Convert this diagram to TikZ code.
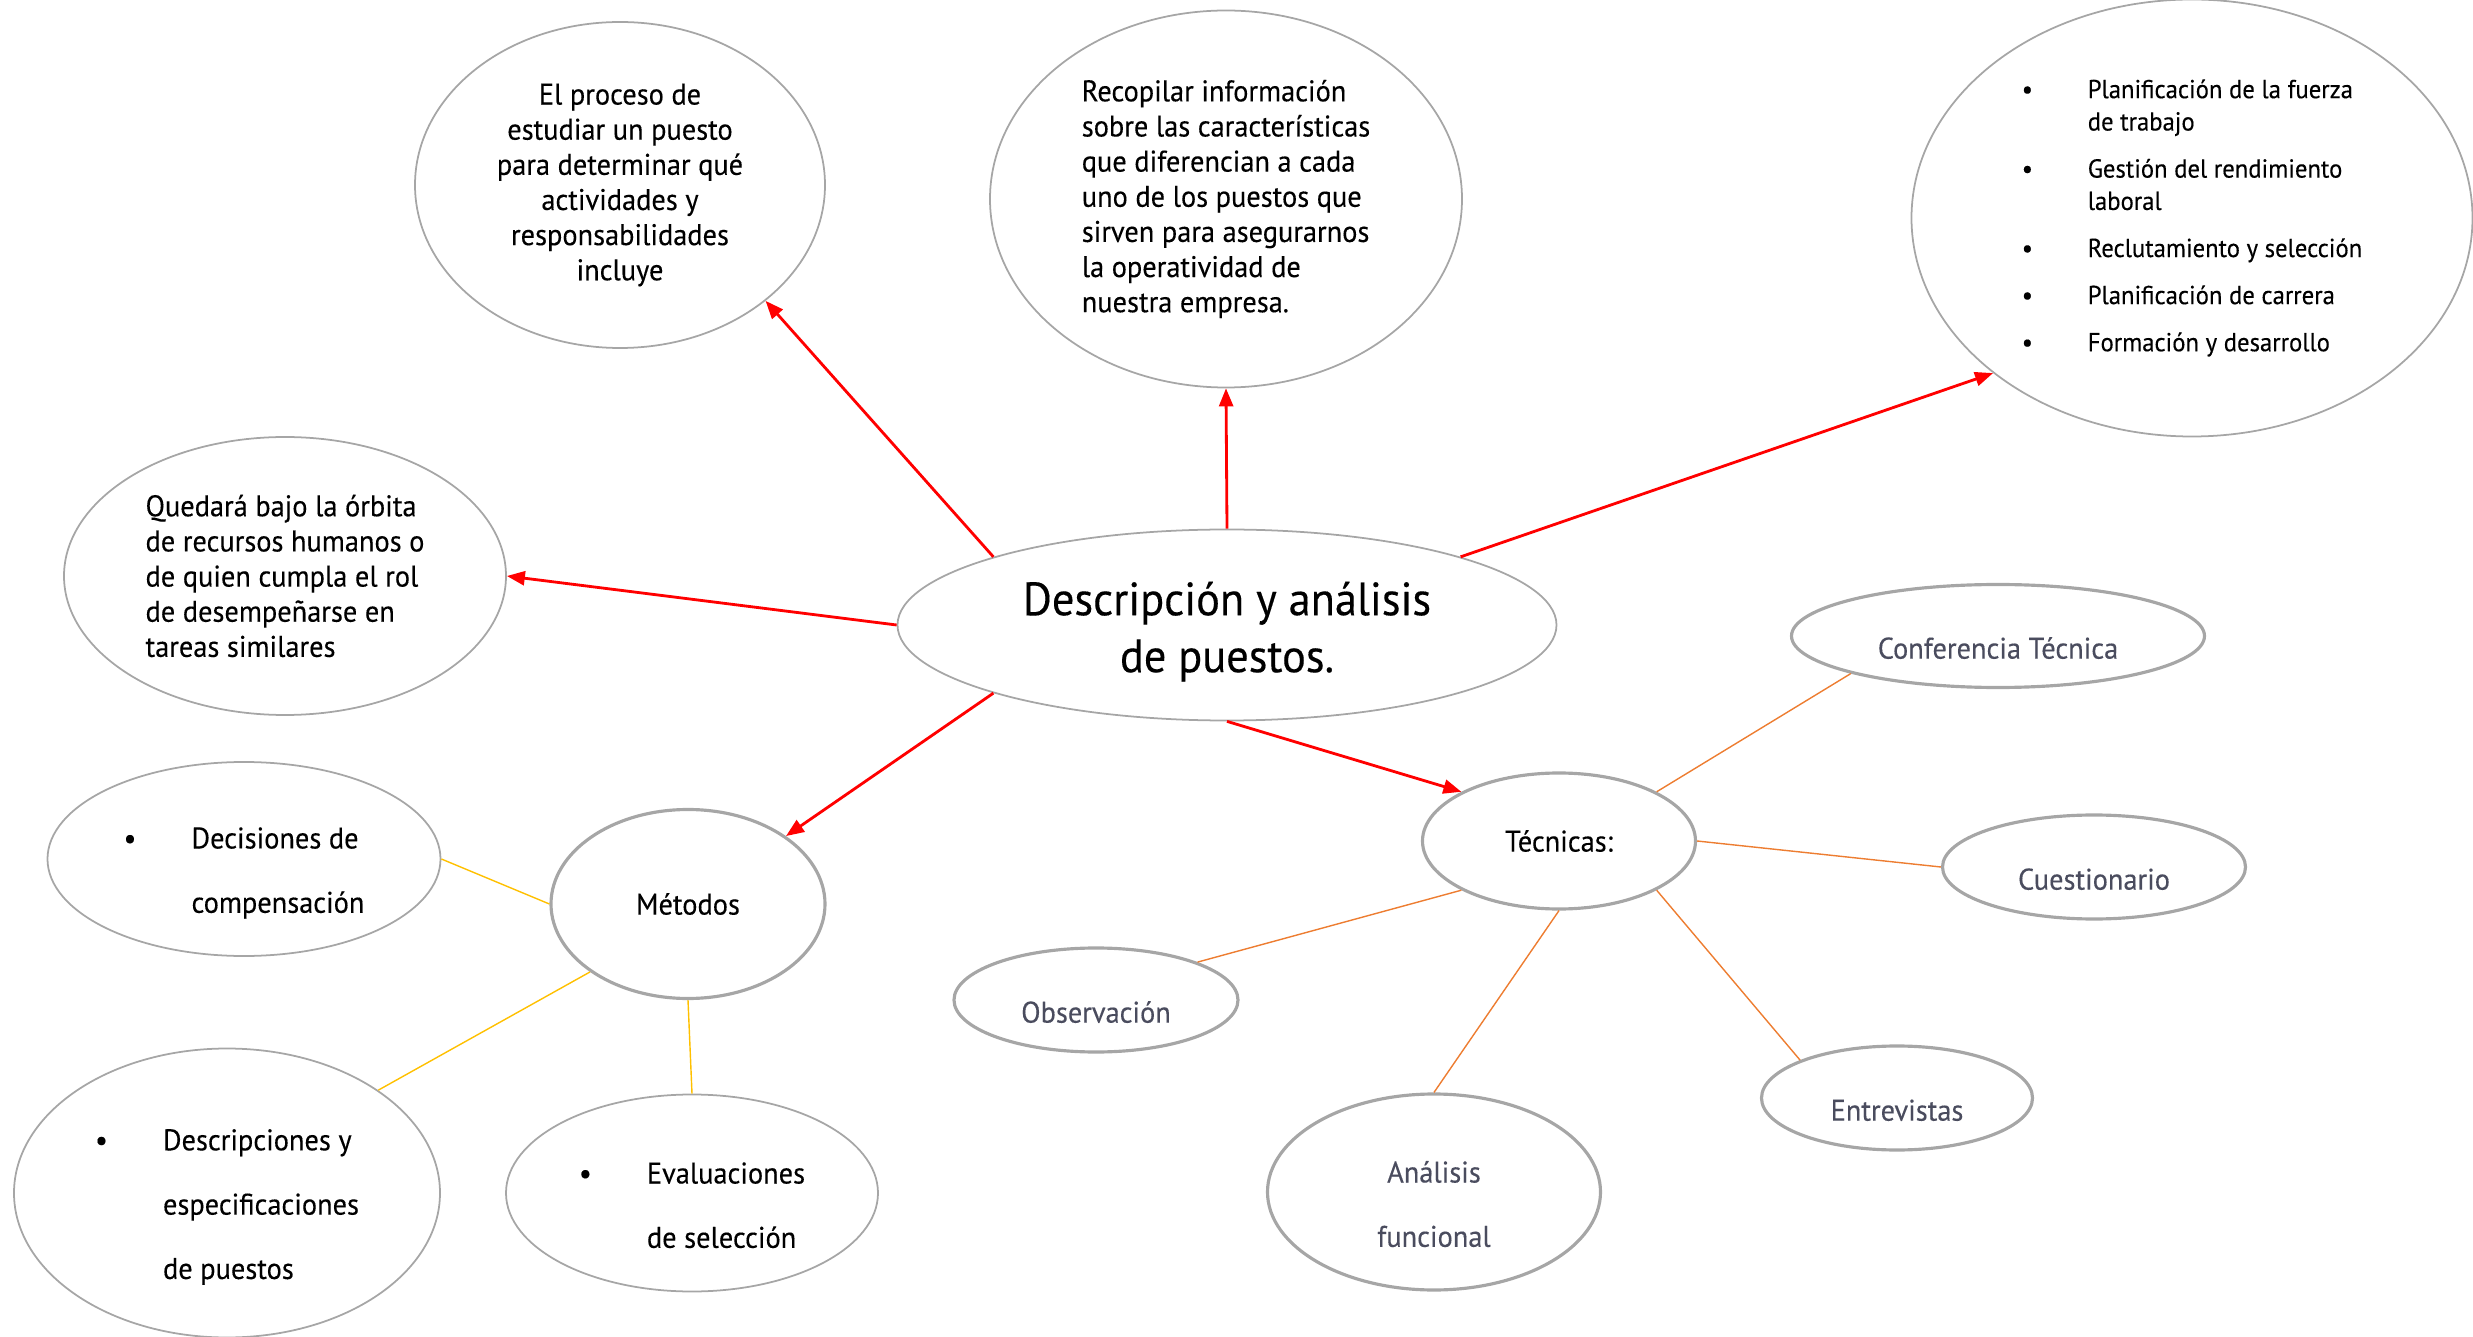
\documentclass[tikz,border=0pt]{standalone}
\usepackage{fontspec}
\setmainfont[FakeStretch=0.95,FakeBold=0.25]{PT Sans}
\usetikzlibrary{shapes.geometric,arrows.meta}
\definecolor{borde}{HTML}{A6A6A6}
\definecolor{rojo}{HTML}{FF0000}
\definecolor{dorado}{HTML}{FFC000}
\definecolor{naranja}{HTML}{ED7D31}
\definecolor{gristexto}{HTML}{4A4C5E}
\newcommand{\bul}{\makebox[0.68cm][l]{\textbullet}}
\newcommand{\sinbul}{\hspace*{0.68cm}}
\newcommand{\alto}[1]{\rule{0pt}{#1}}

\begin{document}
\begin{tikzpicture}[
        bubble/.style={ellipse,draw=borde,line width=0.5pt,inner sep=0pt,
            font=\fontsize{8.5}{10}\selectfont},
        gruesa/.style={line width=0.9pt},
        bajar/.style={execute at begin node={\rule{0pt}{#1}}},
        doble/.style={font=\fontsize{8.5}{18.3}\selectfont},
        hoja/.style={bubble,gruesa,text=gristexto},
        corta/.style={hoja,bajar=13pt},
        flecha/.style={draw=rojo,line width=0.8pt,
            -{Triangle[length=1.8mm,width=1.4mm]}},
        rama/.style={draw=dorado,line width=0.4pt},
        tecnica/.style={draw=naranja,line width=0.4pt}]
    \useasboundingbox (0,0) rectangle (24.73,-13.37);

    \node[bubble,minimum width=6.59cm,minimum height=1.91cm,align=center,
        font=\fontsize{13.3}{16.2}\selectfont] (centro) at (12.27,-6.25)
        {\alto{13.3pt}Descripción y análisis\\de puestos.};

    \node[bubble,minimum width=4.10cm,minimum height=3.26cm,align=center] (proceso) at (6.20,-1.85)
        {El proceso de\\estudiar un puesto\\para determinar qué\\actividades y\\responsabilidades\\incluye};
    \node[bubble,minimum width=4.72cm,minimum height=3.77cm,align=left] (recopilar) at (12.26,-1.99)
        {Recopilar información\\sobre las características\\que diferencian a cada\\uno de los puestos que\\sirven para asegurarnos\\la operatividad de\\nuestra empresa.};
    \node[bubble,minimum width=5.61cm,minimum height=4.37cm,align=left,
        font=\fontsize{7.4}{9.2}\selectfont] (funciones) at (21.92,-2.18)
        {\makebox[0.66cm][l]{\textbullet}Planificación de la fuerza\\\hspace*{0.66cm}de trabajo\\[4.2pt]
         \makebox[0.66cm][l]{\textbullet}Gestión del rendimiento\\\hspace*{0.66cm}laboral\\[4.2pt]
         \makebox[0.66cm][l]{\textbullet}Reclutamiento y selección\\[4.2pt]
         \makebox[0.66cm][l]{\textbullet}Planificación de carrera\\[4.2pt]
         \makebox[0.66cm][l]{\textbullet}Formación y desarrollo};
    \node[bubble,minimum width=4.42cm,minimum height=2.78cm,align=left] (quedara) at (2.85,-5.76)
        {Quedará bajo la órbita\\de recursos humanos o\\de quien cumpla el rol\\de desempeñarse en\\tareas similares};

    % metodos
    \node[bubble,gruesa,minimum width=2.74cm,minimum height=1.89cm] (metodos) at (6.88,-9.04) {Métodos};
    \node[bubble,doble,minimum width=3.93cm,minimum height=1.94cm,align=left] (decisiones) at (2.44,-8.59)
        {\alto{14pt}\bul Decisiones de\\\sinbul compensación};
    \node[bubble,doble,minimum width=4.26cm,minimum height=2.89cm,align=left] (descripciones) at (2.27,-11.93)
        {\alto{14pt}\bul Descripciones y\\\sinbul especificaciones\\\sinbul de puestos};
    \node[bubble,doble,minimum width=3.72cm,minimum height=1.97cm,align=left] (evaluaciones) at (6.92,-11.93)
        {\alto{13pt}\bul Evaluaciones\\\sinbul de selección};

    % tecnicas
    \node[bubble,gruesa,minimum width=2.73cm,minimum height=1.36cm] (tecnicas) at (15.59,-8.41) {Técnicas:};
    \node[corta,minimum width=4.13cm,minimum height=1.03cm] (conferencia) at (19.98,-6.36) {Conferencia Técnica};
    \node[corta,minimum width=3.03cm,minimum height=1.04cm] (cuestionario) at (20.94,-8.67) {Cuestionario};
    \node[corta,minimum width=2.84cm,minimum height=1.04cm] (observacion) at (10.96,-10.00) {Observación};
    \node[hoja,doble,minimum width=3.33cm,minimum height=1.96cm,align=center] (analisis) at (14.34,-11.92)
        {\alto{13pt}Análisis\\funcional};
    \node[corta,minimum width=2.71cm,minimum height=1.04cm] (entrevistas) at (18.97,-10.98) {Entrevistas};

    \draw[flecha] (centro.north west) -- (proceso.south east);
    \draw[flecha] (centro.north) -- (recopilar.south);
    \draw[flecha] (centro.north east) -- (funciones.south west);
    \draw[flecha] (centro.west) -- (quedara.east);
    \draw[flecha] (centro.south west) -- (metodos.north east);
    \draw[flecha] (centro.south) -- (tecnicas.north west);

    \draw[rama] (metodos.west) -- (decisiones.east);
    \draw[rama] (metodos.south west) -- (descripciones.north east);
    \draw[rama] (metodos.south) -- (evaluaciones.north);

    \draw[tecnica] (tecnicas.north east) -- (conferencia.south west);
    \draw[tecnica] (tecnicas.east) -- (cuestionario.west);
    \draw[tecnica] (tecnicas.south west) -- (observacion.north east);
    \draw[tecnica] (tecnicas.south) -- (analisis.north);
    \draw[tecnica] (tecnicas.south east) -- (entrevistas.north west);
\end{tikzpicture}
\end{document}
